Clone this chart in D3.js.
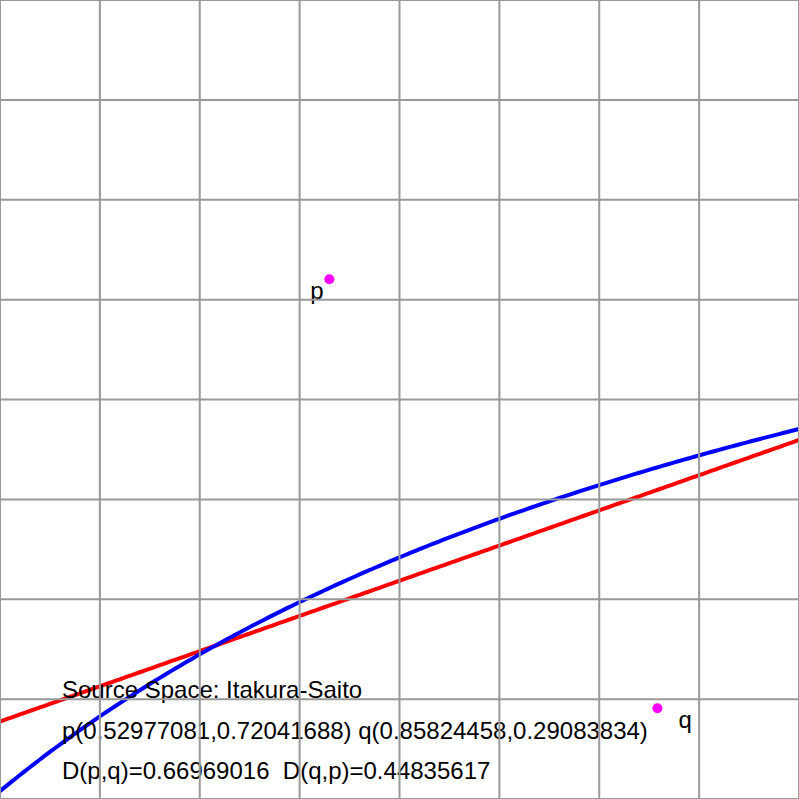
<!DOCTYPE html>
<html>
<head>
<meta charset="utf-8">
<script src="https://cdn.jsdelivr.net/npm/d3@7"></script>
<style>
  html, body { margin: 0; padding: 0; background: #fff; }
  svg { display: block; }
  text { font-family: "Liberation Sans", Arial, Helvetica, sans-serif; font-size: 24px; fill: #000; }
</style>
</head>
<body>
<script>
(function() {

    // source space (Itakura-Saito)
    var spaceName = "Itakura-Saito";
    var pPoint = [0.52977081, 0.72041688],
        qPoint = [0.85824458, 0.29083834];
    var divPQ = "0.66969016",
        divQP = "0.44835617";

    // grid ticks
    var xTicks = [0.2, 0.3, 0.4, 0.5, 0.6, 0.7, 0.8, 0.9, 1.0],
        yTicks = [0.2, 0.3, 0.4, 0.5, 0.6, 0.7, 0.8, 0.9, 1.0];

    var width = 799,
        height = 799;

    var svg = d3.select("body")
        .append("svg")
        .attr("width", width)
        .attr("height", height);

    var x = d3.scaleLinear().domain([0.2, 1.0]).range([0, width]);
    var y = d3.scaleLinear().domain([0.2, 1.0]).range([height, 0]);

    // Itakura-Saito divergence D(a,b) = sum a/b - log(a/b) - 1
    function isDiv(a, b) {
        var s = 0;
        for (var i = 0; i < a.length; i++) s += a[i] / b[i] - Math.log(a[i] / b[i]) - 1;
        return s;
    }

    // bisector D(x,p) = D(x,q) : straight line in source space
    var a1 = 1 / pPoint[0] - 1 / qPoint[0],
        a2 = 1 / pPoint[1] - 1 / qPoint[1],
        c = Math.log(qPoint[0] / pPoint[0]) + Math.log(qPoint[1] / pPoint[1]);
    // bisector D(p,x) = D(q,x) : curve in source space
    var b1 = pPoint[0] - qPoint[0],
        b2 = pPoint[1] - qPoint[1],
        k = Math.log(pPoint[0] / qPoint[0]) + Math.log(pPoint[1] / qPoint[1]);

    var xs = d3.range(0, 201).map(function(i) { return 0.2 + i * 0.004; });

    var redLine = xs.map(function(v) { return [v, (c - a1 * v) / a2]; });
    var blueLine = xs.map(function(v) { return [v, b2 / (k - b1 / v)]; });

    var line = d3.line()
        .x(function(d) { return x(d[0]); })
        .y(function(d) { return y(d[1]); });

    svg.append("path")
        .attr("d", line(redLine))
        .attr("fill", "none")
        .attr("stroke", "#ff0000")
        .attr("stroke-width", 4);

    svg.append("path")
        .attr("d", line(blueLine))
        .attr("fill", "none")
        .attr("stroke", "#0000ff")
        .attr("stroke-width", 4);

    // points
    var pts = [
        { name: "p", v: pPoint, dx: -19, dy: 20 },
        { name: "q", v: qPoint, dx: 21, dy: 20 }
    ];

    svg.selectAll(".pt")
        .data(pts)
        .enter().append("circle")
        .attr("class", "pt")
        .attr("cx", function(d) { return x(d.v[0]); })
        .attr("cy", function(d) { return y(d.v[1]); })
        .attr("r", 5)
        .attr("fill", "#ff00ff");

    svg.selectAll(".ptlabel")
        .data(pts)
        .enter().append("text")
        .attr("class", "ptlabel")
        .attr("x", function(d) { return x(d.v[0]) + d.dx; })
        .attr("y", function(d) { return y(d.v[1]) + d.dy; })
        .text(function(d) { return d.name; });

    // info text
    var info = [
        "Source Space: " + spaceName,
        "p(" + pPoint.join(",") + ") q(" + qPoint.join(",") + ")",
        "D(p,q)=" + divPQ + "\u00a0\u00a0D(q,p)=" + divQP
    ];

    svg.selectAll(".info")
        .data(info)
        .enter().append("text")
        .attr("class", "info")
        .attr("x", 62)
        .attr("y", function(d, i) { return 698 + i * 40.5; })
        .text(function(d) { return d; });

    // grid goes on top
    var grid = svg.append("g").attr("class", "grid");

    grid.selectAll(".vx")
        .data(xTicks)
        .enter().append("line")
        .attr("x1", function(d) { return x(d); })
        .attr("x2", function(d) { return x(d); })
        .attr("y1", 0)
        .attr("y2", height)
        .attr("stroke", "#999")
        .attr("stroke-width", 2);

    grid.selectAll(".hy")
        .data(yTicks)
        .enter().append("line")
        .attr("x1", 0)
        .attr("x2", width)
        .attr("y1", function(d) { return y(d); })
        .attr("y2", function(d) { return y(d); })
        .attr("stroke", "#999")
        .attr("stroke-width", 2);

    console.log(isDiv(pPoint, qPoint), isDiv(qPoint, pPoint));

})();
</script>
</body>
</html>
